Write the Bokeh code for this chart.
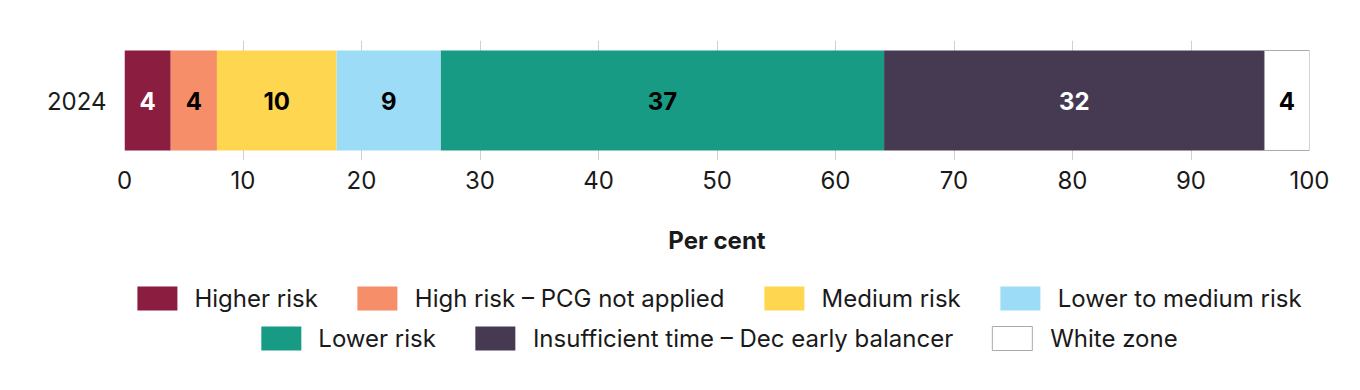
from bokeh.plotting import figure
from bokeh.layouts import column
from bokeh.models import (ColumnDataSource, FactorRange, Range1d, FixedTicker,
                          Legend, LegendItem)
from bokeh.embed import file_html
from bokeh.resources import INLINE
from bokeh.core.properties import value

year = ["2024"]
categories = ["Higher risk", "High risk – PCG not applied", "Medium risk",
              "Lower to medium risk", "Lower risk",
              "Insufficient time – Dec early balancer", "White zone"]
values = [3.9, 3.9, 10.1, 8.8, 37.4, 32.1, 3.8]
bar_labels = ["4", "4", "10", "9", "37", "32", "4"]
colors = ["#8A1D40", "#F68E6A", "#FFD650", "#9DDCF7", "#179B84", "#463A53", "#FFFFFF"]
label_colors = ["white", "black", "black", "black", "black", "white", "black"]
x_ticks = list(range(0, 101, 10))

FONT = "Inter"
FS = "24px"
W = 1344

p = figure(width=W, height=260, y_range=FactorRange(*year, range_padding=0),
           x_range=Range1d(0, 100), output_backend="svg", toolbar_location=None,
           min_border_left=124, min_border_right=35, min_border_top=40,
           min_border_bottom=100)
p.outline_line_color = None

lefts, rights = [], []
acc = 0.0
for v in values:
    lefts.append(acc)
    acc += v
    rights.append(acc)

for i, cat in enumerate(categories):
    src = ColumnDataSource(dict(y=year, left=[lefts[i]], right=[rights[i]]))
    p.hbar(y="y", left="left", right="right", height=0.833, source=src,
           fill_color=colors[i],
           line_color="#A9A9B0" if colors[i] == "#FFFFFF" else None,
           line_width=1)

mid = [(l + r) / 2 for l, r in zip(lefts, rights)]
lsrc = ColumnDataSource(dict(x=mid, y=year * len(mid), t=bar_labels, c=label_colors))
p.text(x="x", y="y", text="t", text_color="c", source=lsrc,
       text_align="center", text_baseline="middle",
       text_font=value(FONT), text_font_size=FS, text_font_style="bold")

p.xaxis.ticker = FixedTicker(ticks=x_ticks)
p.xaxis.axis_line_color = None
p.xaxis.major_tick_line_color = None
p.xaxis.minor_tick_line_color = None
p.xaxis.major_tick_out = 0
p.xaxis.major_label_standoff = 10
p.xaxis.major_label_text_font = FONT
p.xaxis.major_label_text_font_size = FS
p.xaxis.major_label_text_color = "#1a1a1a"
p.xaxis.axis_label = "Per cent"
p.xaxis.axis_label_text_font = FONT
p.xaxis.axis_label_text_font_size = FS
p.xaxis.axis_label_text_font_style = "bold"
p.xaxis.axis_label_text_color = "#1a1a1a"
p.xaxis.axis_label_standoff = 34

p.yaxis.axis_line_color = None
p.yaxis.major_tick_line_color = None
p.yaxis.minor_tick_line_color = None
p.yaxis.major_tick_out = 0
p.yaxis.major_label_standoff = 18
p.yaxis.major_label_text_font = FONT
p.yaxis.major_label_text_font_size = FS
p.yaxis.major_label_text_color = "#1a1a1a"

p.ygrid.grid_line_color = None
p.xgrid.grid_line_color = "#D0D0D0"
p.xgrid.grid_line_width = 1
p.xgrid.ticker = FixedTicker(ticks=x_ticks)

# legend figure (proxy glyphs lie outside its visible ranges)
lp = figure(width=W, height=114, x_range=Range1d(1, 2), y_range=Range1d(1, 2),
            output_backend="svg", toolbar_location=None,
            min_border_left=124, min_border_right=35, min_border_top=0,
            min_border_bottom=0, outline_line_color=None)
lp.xaxis.visible = False
lp.yaxis.visible = False
lp.grid.visible = False

proxies = []
for i, cat in enumerate(categories):
    r = lp.rect(x=[0], y=[0], width=0.1, height=0.1, fill_color=colors[i],
                line_color="#A9A9B0" if colors[i] == "#FFFFFF" else None,
                line_width=1)
    proxies.append(r)

def make_legend(idx, loc, margin):
    items = [LegendItem(label=categories[i], renderers=[proxies[i]]) for i in idx]
    return Legend(items=items, orientation="horizontal", location=loc,
                  label_text_font=FONT, label_text_font_size=FS,
                  label_text_color="#1a1a1a", label_height=24,
                  glyph_width=50, glyph_height=30, label_standoff=13,
                  spacing=34, padding=0, margin=margin,
                  border_line_color=None, background_fill_alpha=0)

lp.add_layout(make_legend([0, 1, 2, 3], "top_center", 23), "center")
lp.add_layout(make_legend([4, 5, 6], "bottom_center", 21), "center")

layout = column(p, lp, spacing=0)
open("out.html", "w").write(file_html(layout, INLINE))
